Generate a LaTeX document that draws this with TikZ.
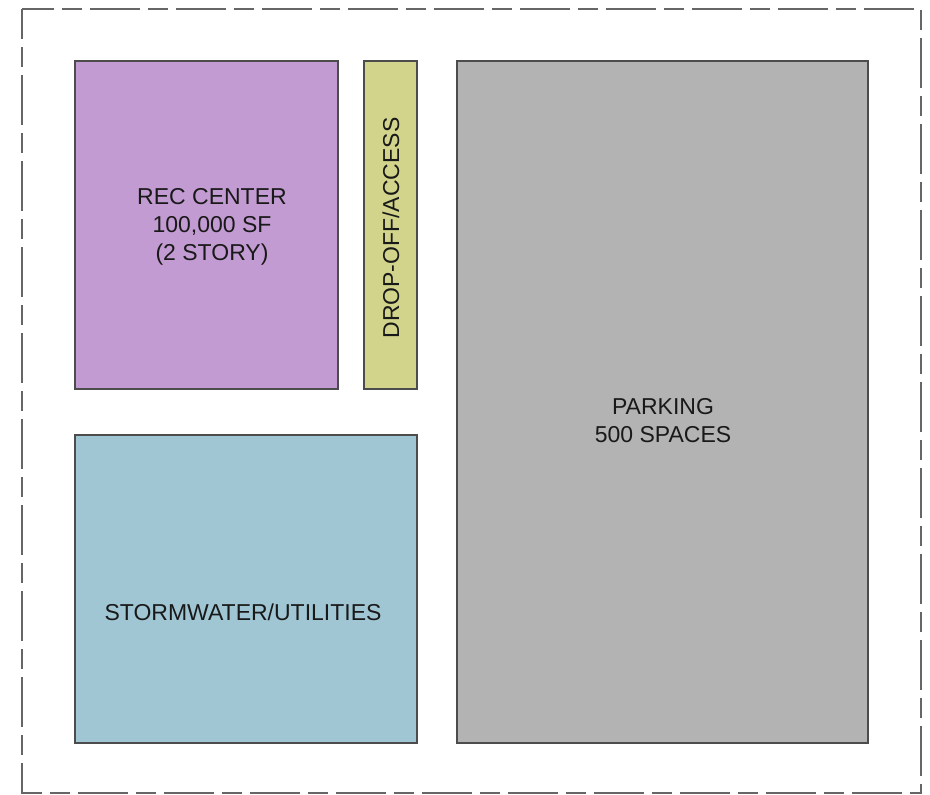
\documentclass[tikz,border=0pt]{standalone}
\usepackage{fontspec}
\setmainfont{Liberation Sans}
\usepackage{xcolor}
\usetikzlibrary{positioning}

\definecolor{recpurple}{HTML}{C39BD3}
\definecolor{dropolive}{HTML}{D1D48A}
\definecolor{parkgray}{HTML}{B3B3B3}
\definecolor{stormblue}{HTML}{A0C6D4}

\begin{document}
\begin{tikzpicture}
	[
		x=1pt, y=-1pt,
		zone/.style={draw=black!70, line width=1.5pt, inner sep=0pt, text=black!90,
			font=\fontsize{23}{28}\selectfont, align=center},
		lot/.style={draw=black!60, line width=2pt, dash pattern=on 50pt off 8pt on 20pt off 8pt, dash phase=20pt}
	]
	\useasboundingbox (0,0) rectangle (930,795);
	% site boundary
	\draw[lot] (22,9) rectangle (921,793);
	% program areas
	\node[zone, fill=recpurple, minimum width=263pt, minimum height=328pt] (rec) at (206.5,225) {};
	\node[zone, fill=dropolive, minimum width=53pt, minimum height=328pt] (drop) at (390.5,225) {};
	\node[zone, fill=parkgray, minimum width=411pt, minimum height=682pt] (park) at (662.5,402) {};
	\node[zone, fill=stormblue, minimum width=342pt, minimum height=308pt] (storm) at (246,589) {};
	% labels
	\node[zone, draw=none] at (212,227) {REC CENTER\\100,000 SF\\(2 STORY)};
	\node[zone, draw=none, rotate=90] at (391,228) {DROP-OFF/ACCESS};
	\node[zone, draw=none] at (663,421) {PARKING\\500 SPACES};
	\node[zone, draw=none] at (243,612) {STORMWATER/UTILITIES};
\end{tikzpicture}
\end{document}
